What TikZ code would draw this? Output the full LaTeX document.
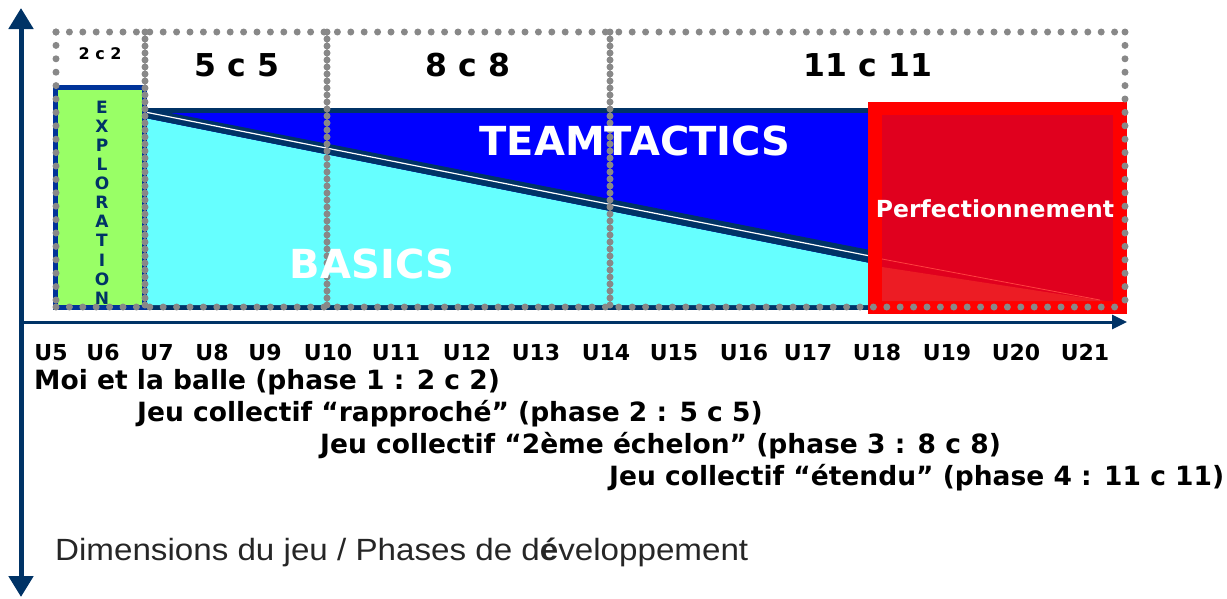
\documentclass[tikz,border=0pt]{standalone}
\usepackage{fontspec}
\usepackage{graphicx}
\setmainfont{DejaVu Sans}
\newfontfamily\thinfont{Liberation Sans}
\usetikzlibrary{arrows.meta,positioning}
\definecolor{axisnavy}{HTML}{003366}
\definecolor{explnavy}{HTML}{003399}
\definecolor{explgreen}{HTML}{99FF66}
\definecolor{basiccyan}{HTML}{66FFFF}
\definecolor{tacticblue}{HTML}{0000FF}
\definecolor{perfred}{HTML}{FF0000}
\definecolor{perfcrimson}{HTML}{E0001E}
\definecolor{perflight}{HTML}{EC1C24}
\definecolor{dotgray}{HTML}{888888}
\tikzset{
hdots/.style={dotgray, line width=7pt, line cap=round, dash pattern=on 0pt off 13.4pt}, % sparse dots
vdots/.style={dotgray, line width=7pt, line cap=round, dash pattern=on 0pt off 7pt}, % dense dots
fmt/.style={font=\bfseries\fontsize{#1}{#1}\selectfont, inner sep=0pt},
agelabel/.style={fmt=22, anchor=base},
phasetext/.style={fmt=26.5, anchor=base west},
bigword/.style={fmt=#1, text=white}
}

\begin{document}
\begin{tikzpicture}[x=1pt, y=-1pt]
    \useasboundingbox (0,0) rectangle (1227,598);
    % blue / cyan band
    \fill [axisnavy] (145,108) rectangle (870,310);
    \fill [tacticblue] (145,113) rectangle (870,305);
    \fill [basiccyan] (145,118) -- (870,263) -- (870,305) -- (145,305) -- cycle;
    \fill [axisnavy] (145,108) -- (870,250) -- (870,263) -- (145,118) -- cycle;
    \draw [white, line width=1.2pt] (145,112) -- (870,256);
    % red box
    \fill [perfred] (868,102) rectangle (1127,314);
    \fill [perfcrimson] (882,115) rectangle (1113,301);
    \fill [perflight] (882,267) -- (1105,301) -- (882,301) -- cycle;
    \draw [red!75!white, line width=0.8pt] (882,259) -- (1100,300);
    % green box
    \draw [explnavy, line width=5pt, fill=explgreen] (55.5,87.5) rectangle (144,307.5);
    % dotted frames
    \draw [hdots] (56,32) -- (1125,32);
    \draw [hdots] (56,307) -- (1125,307);
    \draw [hdots] (56,32) -- (56,307);
    \draw [hdots] (1125,32) -- (1125,307);
    \foreach \xcol in {145,327,610}
        \draw [vdots] (\xcol,32) -- (\xcol,307);
    % axes
    \coordinate (vtop) at (21,8);
    \coordinate (vbot) at (21,597);
    \coordinate (horig) at (21,322);
    \coordinate (hend) at (1127,322);
    \draw [axisnavy, line width=5pt, {Triangle[length=21pt,width=24pt]}-{Triangle[length=21pt,width=24pt]}] (vtop) -- (vbot);
    \draw [axisnavy, line width=3pt, -{Triangle[length=15pt,width=14pt]}] (horig) -- (hend);
    % game sizes
    \node [fmt=16] (size2) at (100,54) {2 c 2};
    \node [fmt=31.5] (size5) at (237,65) {5 c 5};
    \node [fmt=31.5] (size8) at (468,65) {8 c 8};
    \node [fmt=31.5] (size11) at (868,65) {11 c 11};
    \foreach \ch [count=\i from 0] in {E,X,P,L,O,R,A,T,I,O,N}
        \node [fmt=17, text=axisnavy] (expl\i) at (102,{107+19.1*\i}) {\ch};
    \node [bigword=40] (teamtactics) at (635,141) {TEAMTACTICS};
    \node [bigword=40] (basics) at (372,264) {BASICS};
    \node [bigword=23.5] (perfection) at (995,208.5) {Perfectionnement};
    % ages
    \foreach \age/\xpos in {5/51,6/103,7/157,8/212,9/265,10/328,11/396,12/467,13/536,14/606,15/674,16/744,17/808,18/877,19/947,20/1016,21/1085}
        \node [agelabel] (u\age) at (\xpos,360) {U\age};
    % phases
    \node [phasetext] (phase1) at (34,389) {Moi et la balle (phase 1 : 2 c 2)};
    \node [phasetext] (phase2) at (137,421) {Jeu collectif “rapproché” (phase 2 : 5 c 5)};
    \node [phasetext] (phase3) at (320,453) {Jeu collectif “2ème échelon” (phase 3 : 8 c 8)};
    \node [phasetext] (phase4) at (609,485) {Jeu collectif “étendu” (phase 4 : 11 c 11)};
    \node [anchor=base west, inner sep=0pt, font=\thinfont\fontsize{30.7}{30.7}\selectfont, text=black!85] (dimlabel) at (55,560) {\scalebox{1.08}[1]{Dimensions du jeu / Phases de d{\bfseries é}veloppement}};
\end{tikzpicture}
\end{document}
